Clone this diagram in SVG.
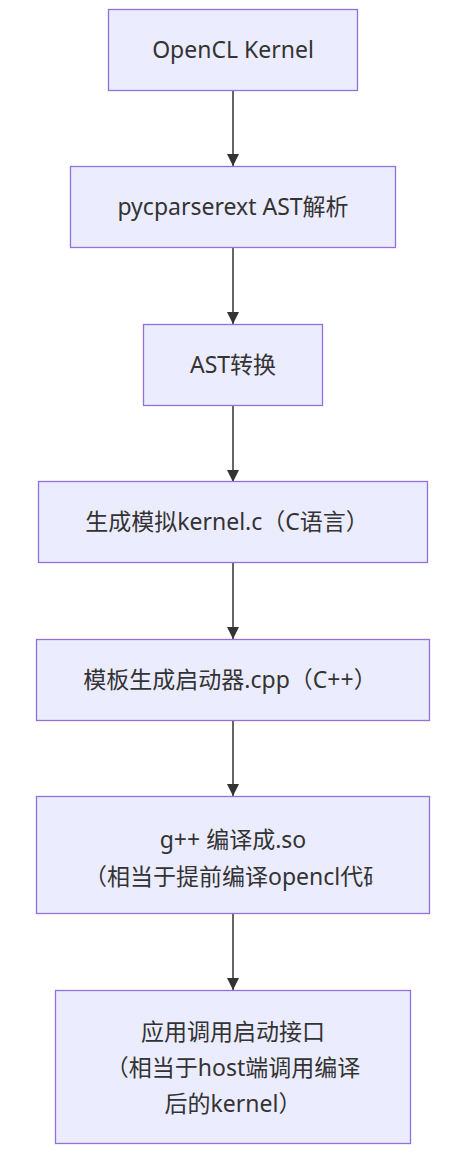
<svg xmlns="http://www.w3.org/2000/svg" width="453" height="1158" viewBox="0 0 453 1158">
<style>
.node rect{fill:#ECECFF;stroke:#9370DB;stroke-width:1.3px;}
.label{font-family:"Noto Sans","Noto Sans CJK SC",sans-serif;font-size:23px;fill:#333333;text-anchor:middle;}
.label-start{font-family:"Noto Sans","Noto Sans CJK SC",sans-serif;font-size:23px;fill:#333333;text-anchor:start;}
.edge{stroke:#333333;stroke-width:1.5px;fill:none;marker-end:url(#arrow);}
</style>
<defs>
<marker id="arrow" viewBox="0 0 12 12" refX="12" refY="6" markerUnits="userSpaceOnUse" markerWidth="12" markerHeight="12" orient="auto">
<path d="M0,0 L12,6 L0,12 z" fill="#333333"/>
</marker>
<clipPath id="clip6"><rect x="40" y="796" width="333" height="118"/></clipPath>
</defs>
<rect width="453" height="1158" fill="#ffffff"/>
<g id="edges">
<line class="edge" x1="233" y1="91" x2="233" y2="166"/>
<line class="edge" x1="233" y1="248" x2="233" y2="324"/>
<line class="edge" x1="233" y1="406" x2="233" y2="482"/>
<line class="edge" x1="233" y1="563" x2="233" y2="639"/>
<line class="edge" x1="233" y1="721" x2="233" y2="796"/>
<line class="edge" x1="233" y1="914" x2="233" y2="990"/>
</g>
<g id="n1" class="node"><rect x="108.5" y="9.5" width="249" height="81"/><text class="label" x="233" y="58">OpenCL Kernel</text></g>
<g id="n2" class="node"><rect x="70.5" y="166.5" width="325" height="81"/><text class="label" x="233" y="215">pycparserext AST解析</text></g>
<g id="n3" class="node"><rect x="143.5" y="324.5" width="179" height="81"/><text class="label" x="233" y="373">AST转换</text></g>
<g id="n4" class="node"><rect x="38.5" y="481.5" width="389" height="81"/><text class="label" x="227" y="530">生成模拟kernel.c（C语言）</text></g>
<g id="n5" class="node"><rect x="36.5" y="639.5" width="393" height="81"/><text class="label" x="230" y="688">模板生成启动器.cpp（C++）</text></g>
<g id="n6" class="node"><rect x="36.5" y="796.5" width="393" height="117"/>
<text class="label" x="233" y="848">g++ 编译成.so</text>
<text class="label-start" x="84" y="885" clip-path="url(#clip6)">（相当于提前编译opencl代码</text></g>
<g id="n7" class="node"><rect x="55.5" y="990.5" width="355" height="153"/>
<text class="label" x="233" y="1040">应用调用启动接口</text>
<text class="label" x="233" y="1076">（相当于host端调用编译</text>
<text class="label" x="233" y="1112">后的kernel）</text></g>
</svg>
